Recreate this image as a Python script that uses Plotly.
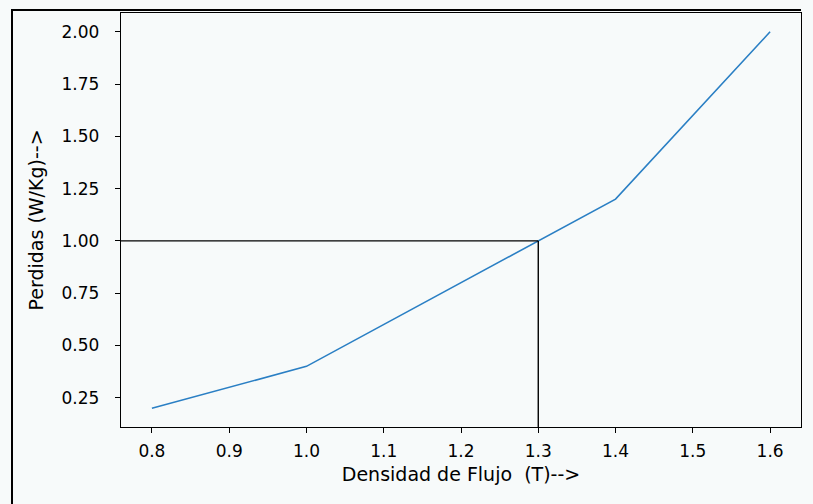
import plotly.graph_objects as go

# Core loss curve: flux density (T) vs. losses (W/kg)
flux_density = [0.8, 1.0, 1.4, 1.6]
losses = [0.2, 0.4, 1.2, 2.0]

# Operating point marked by guide lines
op_flux = 1.3
op_loss = 1.0

x_range = [0.76, 1.64]
y_range = [0.11, 2.09]

x_ticks = [0.8, 0.9, 1.0, 1.1, 1.2, 1.3, 1.4, 1.5, 1.6]
y_ticks = [0.25, 0.50, 0.75, 1.00, 1.25, 1.50, 1.75, 2.00]

W, H = 813, 504
ML, MR, MT, MB = 121, 12, 13, 77
BG = "#f7fafa"

fig = go.Figure()

fig.add_trace(go.Scatter(
    x=flux_density, y=losses, mode="lines",
    line=dict(color="#2a7fc4", width=1.6),
    hoverinfo="skip", showlegend=False,
))

# Guide lines to the operating point
fig.add_trace(go.Scatter(
    x=[x_range[0], op_flux], y=[op_loss, op_loss], mode="lines",
    line=dict(color="black", width=1.4), showlegend=False, hoverinfo="skip",
))
fig.add_trace(go.Scatter(
    x=[op_flux, op_flux], y=[y_range[0], op_loss], mode="lines",
    line=dict(color="black", width=1.4), showlegend=False, hoverinfo="skip",
))

tick_font = dict(family="DejaVu Sans", size=17, color="black")
title_font = dict(family="DejaVu Sans", size=19, color="black")

fig.update_xaxes(
    range=x_range, tickvals=x_ticks, tickformat=".1f",
    showgrid=False, zeroline=False,
    showline=True, linecolor="black", linewidth=1.4, mirror=True,
    ticks="outside", ticklen=5, tickcolor="black", tickwidth=1.2,
    tickfont=tick_font, ticklabelstandoff=3,
    title=dict(text="Densidad de Flujo\u00a0 (T)-->", font=title_font, standoff=8),
)
fig.update_yaxes(
    range=y_range, tickvals=y_ticks, tickformat=".2f",
    showgrid=False, zeroline=False,
    showline=True, linecolor="black", linewidth=1.4, mirror=True,
    ticks="outside", ticklen=5, tickcolor="black", tickwidth=1.2,
    tickfont=tick_font, ticklabelstandoff=12,
    title=dict(text="Perdidas (W/Kg)-->", font=title_font, standoff=12),
)

# Outer frame (top and left edges)
pw, ph = W - ML - MR, H - MT - MB
def px(xp):
    return (xp - ML) / pw
def py(yp):
    return (H - MB - yp) / ph

frame = dict(color="black", width=2)
fig.add_shape(type="line", xref="paper", yref="paper",
              x0=px(11), x1=px(801), y0=py(10), y1=py(10), line=frame)
fig.add_shape(type="line", xref="paper", yref="paper",
              x0=px(12), x1=px(12), y0=py(10), y1=py(504), line=frame)

fig.update_layout(
    width=W, height=H,
    margin=dict(l=ML, r=MR, t=MT, b=MB),
    paper_bgcolor=BG, plot_bgcolor=BG,
    font=tick_font,
)

fig.write_html("out.html")
